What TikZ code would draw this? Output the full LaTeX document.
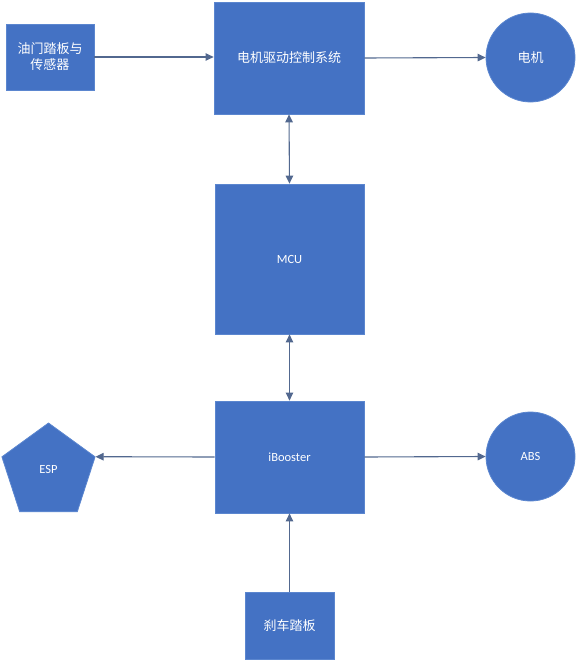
\documentclass[tikz,border=0pt]{standalone}
\usepackage{fontspec}
\setmainfont{Carlito}
\newfontfamily\cjk{Noto Sans CJK SC}
\usetikzlibrary{
    positioning,           % Relative positioning
    shapes.geometric,      % Geometric shapes
    arrows.meta            % Modern arrow tips
}
\definecolor{boxblue}{HTML}{4472C4}
\definecolor{boxedge}{HTML}{5B86CF}
\definecolor{linkgray}{HTML}{52688F}
\newcommand{\cn}{\fontsize{13}{16}\selectfont\cjk}
\tikzset{
    block/.style={rectangle,fill=boxblue,draw=boxedge,line width=0.8pt,text=white,
        font=\fontsize{12.5}{16}\selectfont,align=center,inner sep=0pt},
    disc/.style={circle,fill=boxblue,draw=boxedge,line width=0.8pt,text=white,
        font=\fontsize{12.5}{16}\selectfont,inner sep=0pt,minimum size=89pt},
    link/.style={draw=linkgray,line width=1.1pt,-{Triangle[length=8pt,width=7.5pt]}},
    twolink/.style={link,{Triangle[length=8pt,width=7.5pt]}-{Triangle[length=8pt,width=7.5pt]}}
}
\begin{document}
\begin{tikzpicture}[x=1pt,y=-1pt]
    \useasboundingbox (0,0) rectangle (577,661);
    % main column
    \node[block,minimum width=150pt,minimum height=112pt] (ctrl) at (289,58) {\cn 电机驱动控制系统};
    \node[block,minimum width=149pt,minimum height=150pt] (mcu) at (289.5,259) {MCU};
    \node[block,minimum width=149pt,minimum height=112pt] (booster) at (289.5,457) {iBooster};
    \node[block,minimum width=89pt,minimum height=67pt] (brake) at (289.5,625.5) {\cn 刹车踏板};
    % side parts
    \node[block,minimum width=88pt,minimum height=66pt] (pedal) at (50,57) {\cn 油门踏板与\\\cn 传感器};
    \node[disc] (motor) at (530.5,57.5) {\cn 电机};
    \node[disc] (abs) at (530.5,456.5) {ABS};
    \node[regular polygon,regular polygon sides=5,minimum size=98pt,fill=boxblue,draw=boxedge,
        line width=0.8pt,text=white,font=\fontsize{12.5}{16}\selectfont,inner sep=0pt] (esp) at (48.5,472) {\raisebox{5pt}{ESP}};
    % connectors
    \draw[link] (pedal.east) -- (ctrl.west |- pedal.east);
    \draw[link] (ctrl.east) -- (motor.west);
    \draw[twolink] (ctrl.south) -- (mcu.north);
    \draw[twolink] (mcu.south) -- (booster.north);
    \draw[link] (booster.west) -- (esp.corner 5);
    \draw[link] (booster.east) -- (abs.west);
    \draw[link] (brake.north) -- (booster.south);
\end{tikzpicture}
\end{document}
